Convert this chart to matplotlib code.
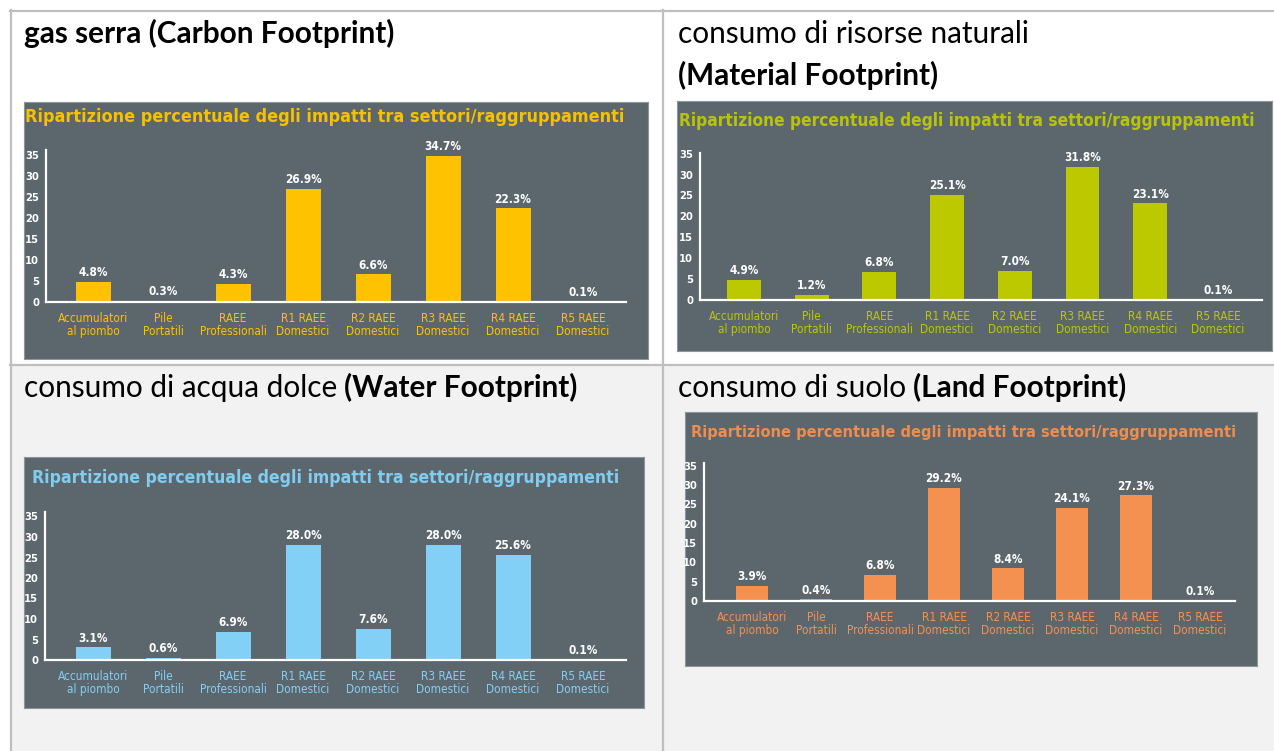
import matplotlib
matplotlib.use("Agg")
import matplotlib.pyplot as plt
from matplotlib.patches import Rectangle
from matplotlib.lines import Line2D

# ---------------------------------------------------------------- data
categories = ["Accumulatori\nal piombo", "Pile\nPortatili", "RAEE\nProfessionali",
              "R1 RAEE\nDomestici", "R2 RAEE\nDomestici", "R3 RAEE\nDomestici",
              "R4 RAEE\nDomestici", "R5 RAEE\nDomestici"]
y_ticks = [0, 5, 10, 15, 20, 25, 30, 35]

carbon = [4.8, 0.3, 4.3, 26.9, 6.6, 34.7, 22.3, 0.1]
material = [4.9, 1.2, 6.8, 25.1, 7.0, 31.8, 23.1, 0.1]
water = [3.1, 0.6, 6.9, 28.0, 7.6, 28.0, 25.6, 0.1]
land = [3.9, 0.4, 6.8, 29.2, 8.4, 24.1, 27.3, 0.1]

chart_title = "Ripartizione percentuale degli impatti tra settori/raggruppamenti"

header_carbon = [("gas serra (Carbon Footprint)", "bold")]
header_material_1 = [("consumo di risorse naturali", "normal")]
header_material_2 = [("(Material Footprint)", "bold")]
header_water = [("consumo di acqua dolce", "normal"), ("(Water Footprint)", "bold")]
header_land = [("consumo di suolo", "normal"), ("(Land Footprint)", "bold")]

# ---------------------------------------------------------------- layout
W, H, DPI = 1274, 751, 100
PANEL_BG = "#5c666d"
GRID_COL = "#bfbfbf"
HEAD_FONT = ["Lato", "DejaVu Sans"]
COND = dict(family=["Noto Sans Condensed", "Liberation Sans Narrow",
                    "DejaVu Sans Condensed", "DejaVu Sans"], stretch="condensed")

fig = plt.figure(figsize=(W / DPI, H / DPI), dpi=DPI)
fig.patch.set_facecolor("white")
renderer = fig.canvas.get_renderer()


def fx(x):
    return x / W


def fy(y):
    return 1 - y / H


def rect(x0, y0, x1, y1):
    return [fx(x0), fy(y1), (x1 - x0) / W, (y1 - y0) / H]


def hline(x0, x1, y, **kw):
    fig.add_artist(Line2D([fx(x0), fx(x1)], [fy(y), fy(y)], transform=fig.transFigure, **kw))


def vline(x, y0, y1, **kw):
    fig.add_artist(Line2D([fx(x), fx(x)], [fy(y0), fy(y1)], transform=fig.transFigure, **kw))


def fit_text(x0, x1, y, s, **kw):
    t = fig.text(fx(x0), fy(y), s, ha="left", **kw)
    bb = t.get_window_extent(renderer)
    t.set_fontsize(t.get_fontsize() * (x1 - x0) / bb.width)
    return t


# table: second row shaded, grey rules
fig.add_artist(Rectangle((fx(10), 0), 1 - fx(10), fy(365), transform=fig.transFigure,
                         facecolor="#f2f2f2", edgecolor="none", zorder=0))
rule = dict(color=GRID_COL, linewidth=1.6, zorder=1)
hline(10, W, 11, **rule)
hline(10, W, 365, **rule)
vline(10.5, 10, H, **rule)
vline(663, 10, H, **rule)

# cell headings
HEAD_SIZE = 21.4


def heading(x, y, parts):
    cur = x
    for s, w in parts:
        t = fig.text(fx(cur), fy(y), s, ha="left", va="baseline", fontsize=HEAD_SIZE,
                     fontweight=w, family=HEAD_FONT, color="black")
        bb = t.get_window_extent(renderer)
        cur = bb.x1 + HEAD_SIZE * 0.32


heading(24, 43, header_carbon)
heading(678, 43, header_material_1)
heading(678, 85, header_material_2)
heading(24, 397, header_water)
heading(678, 397, header_land)

panels = [
    dict(values=carbon, bar="#fec200", text="#f6c200",
         box=(24, 102, 648, 359), title_x=(25, 622), title_y=117,
         left=46, right=626, bottom=302, top=150, c0=93, step=70, ppu=4.2),
    dict(values=material, bar="#bcc800", text="#b8c40c",
         box=(677, 101, 1272, 351), title_x=(679, 1255), title_y=121,
         left=700, right=1262, bottom=300, top=153, c0=744, step=67.7, ppu=4.18),
    dict(values=water, bar="#82d0f5", text="#80cdf0",
         box=(24, 457, 644, 708), title_x=(32, 618), title_y=478,
         left=45, right=626, bottom=660, top=512, c0=93, step=70, ppu=4.1),
    dict(values=land, bar="#f59150", text="#f08d4c",
         box=(685, 412, 1257, 666), title_x=(691, 1232), title_y=433,
         left=704, right=1235, bottom=601, top=463, c0=752, step=64, ppu=3.87),
]

for p in panels:
    x0, y0, x1, y1 = p["box"]
    bg = fig.add_axes(rect(x0, y0, x1, y1))
    bg.set_facecolor(PANEL_BG)
    bg.set_xticks([])
    bg.set_yticks([])
    for sp in bg.spines.values():
        sp.set_edgecolor("#8d969b")
        sp.set_linewidth(0.8)

    fit_text(p["title_x"][0], p["title_x"][1], p["title_y"], chart_title,
             va="center", fontsize=13, fontweight="bold", color=p["text"], **COND)

    ax = fig.add_axes(rect(p["left"], p["top"], p["right"], p["bottom"]))
    ax.patch.set_alpha(0)
    step = p["step"]
    ax.set_xlim((p["left"] - p["c0"]) / step, (p["right"] - p["c0"]) / step)
    ax.set_ylim(0, (p["bottom"] - p["top"]) / p["ppu"])
    xs = list(range(len(categories)))
    ax.bar(xs, p["values"], width=0.5, color=p["bar"], zorder=2)
    for x, v in zip(xs, p["values"]):
        ax.annotate(f"{v:.1f}%", (x, v), xytext=(0, 2), textcoords="offset points",
                    ha="center", va="bottom", color="white", fontsize=8.5,
                    fontweight="bold", **COND)

    for side in ("top", "right"):
        ax.spines[side].set_visible(False)
    for side in ("left", "bottom"):
        ax.spines[side].set_color("white")
        ax.spines[side].set_linewidth(1.6)
    ax.set_yticks(y_ticks)
    ax.set_yticklabels([str(t) for t in y_ticks])
    ax.set_xticks(xs)
    ax.set_xticklabels(categories, linespacing=1.0)
    ax.tick_params(axis="both", length=0)
    ax.tick_params(axis="y", pad=5, labelcolor="white")
    ax.tick_params(axis="x", pad=7, labelcolor=p["bar"])
    for lab in ax.get_yticklabels():
        lab.set_fontsize(8)
        lab.set_fontweight("bold")
        lab.set_family(COND["family"])
        lab.set_stretch("condensed")
    for lab in ax.get_xticklabels():
        lab.set_fontsize(8.5)
        lab.set_family(COND["family"])
        lab.set_stretch("condensed")

fig.savefig("out.png", dpi=DPI, facecolor=fig.get_facecolor())
